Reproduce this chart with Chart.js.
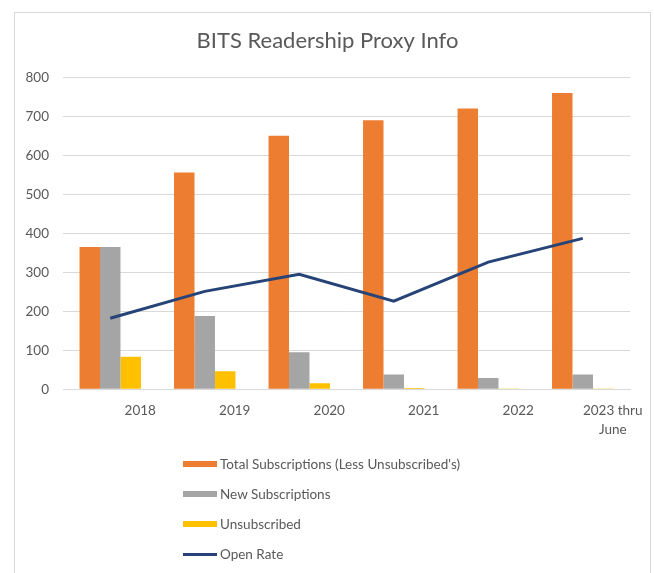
<!DOCTYPE html>
<html lang="en">
<head>
  <meta charset="UTF-8" />
  <title>BITS Readership Proxy Info</title>
  <script src="https://cdn.jsdelivr.net/npm/chart.js"></script>
  <style>
    body { margin: 0; background: #fff; font-family: Lato, sans-serif; }
    #frame { position: absolute; left: 14px; top: 12px; width: 635px; height: 580px; border: 1px solid #d9d9d9; }
    #chartBox { position: relative; width: 635px; height: 438px; }
    #legend { list-style: none; margin: 0; padding: 0; position: absolute; left: 168px; top: 436px; }
    #legend li { height: 30px; display: flex; align-items: center; font-size: 13.5px; color: #595959; }
    #legend .sw { width: 34px; margin-right: 3px; }
  </style>
</head>
<body>
  <div id="frame">
    <div id="chartBox"><canvas id="bitsChart"></canvas></div>
    <ul id="legend"></ul>
  </div>

  <script>
    const years = ['2018', '2019', '2020', '2021', '2022', ['2023 thru', 'June']];
    const totalSubs = [365, 556, 650, 690, 720, 760];
    const newSubs = [365, 188, 95, 38, 29, 38];
    const unsubscribed = [83, 46, 15, 3, 2, 2];
    const openRate = [182, 251, 295, 226, 326, 387];

    const gray = '#595959';

    // legend as html list so items stack vertically like the original
    const htmlLegend = {
      id: 'htmlLegend',
      afterUpdate(chart) {
        const ul = document.getElementById('legend');
        ul.innerHTML = '';
        const items = chart.options.plugins.legend.labels.generateLabels(chart);
        // bars first, the line last
        items.sort((a, b) => (a.datasetIndex === 0 ? 9 : a.datasetIndex) - (b.datasetIndex === 0 ? 9 : b.datasetIndex));
        items.forEach(item => {
          const ds = chart.data.datasets[item.datasetIndex];
          const li = document.createElement('li');
          const sw = document.createElement('span');
          sw.className = 'sw';
          if (ds.type === 'line') {
            sw.style.height = '3px';
            sw.style.background = ds.borderColor;
          } else {
            sw.style.height = '6px';
            sw.style.background = ds.backgroundColor;
          }
          li.appendChild(sw);
          li.appendChild(document.createTextNode(item.text));
          ul.appendChild(li);
        });
      }
    };

    new Chart(document.getElementById('bitsChart'), {
      type: 'bar',
      data: {
        labels: years,
        datasets: [
          { type: 'line', label: 'Open Rate', data: openRate, borderColor: '#264478', backgroundColor: '#264478',
            borderWidth: 3, pointRadius: 0, tension: 0, order: 0 },
          { label: "Total Subscriptions (Less Unsubscribed's)", data: totalSubs, backgroundColor: '#ED7D31', order: 1 },
          { label: 'New Subscriptions', data: newSubs, backgroundColor: '#A5A5A5', order: 1 },
          { label: 'Unsubscribed', data: unsubscribed, backgroundColor: '#FFC000', order: 1 }
        ]
      },
      options: {
        responsive: true,
        maintainAspectRatio: false,
        animation: false,
        layout: { padding: { left: 10, right: 20, top: 0, bottom: 0 } },
        datasets: { bar: { categoryPercentage: 0.65, barPercentage: 1 } },
        scales: {
          x: {
            grid: { display: false, drawTicks: false },
            border: { color: '#d9d9d9' },
            ticks: { color: gray, font: { family: 'Lato', size: 13.5, lineHeight: 1.4 }, padding: 12, labelOffset: 30, maxRotation: 0 }
          },
          y: {
            min: 0, max: 800,
            grid: { color: '#d9d9d9', drawTicks: false },
            border: { display: false },
            ticks: { stepSize: 100, color: gray, font: { family: 'Lato', size: 13.5 }, padding: 14 },
            afterFit(scale) { scale.width = 38; }
          }
        },
        plugins: {
          legend: { display: false },
          tooltip: { enabled: false },
          title: {
            display: true,
            text: 'BITS Readership Proxy Info',
            color: gray,
            font: { family: 'Lato', size: 22, weight: 'normal' },
            padding: { top: 15, bottom: 23 }
          }
        }
      },
      plugins: [htmlLegend]
    });
  </script>
</body>
</html>
